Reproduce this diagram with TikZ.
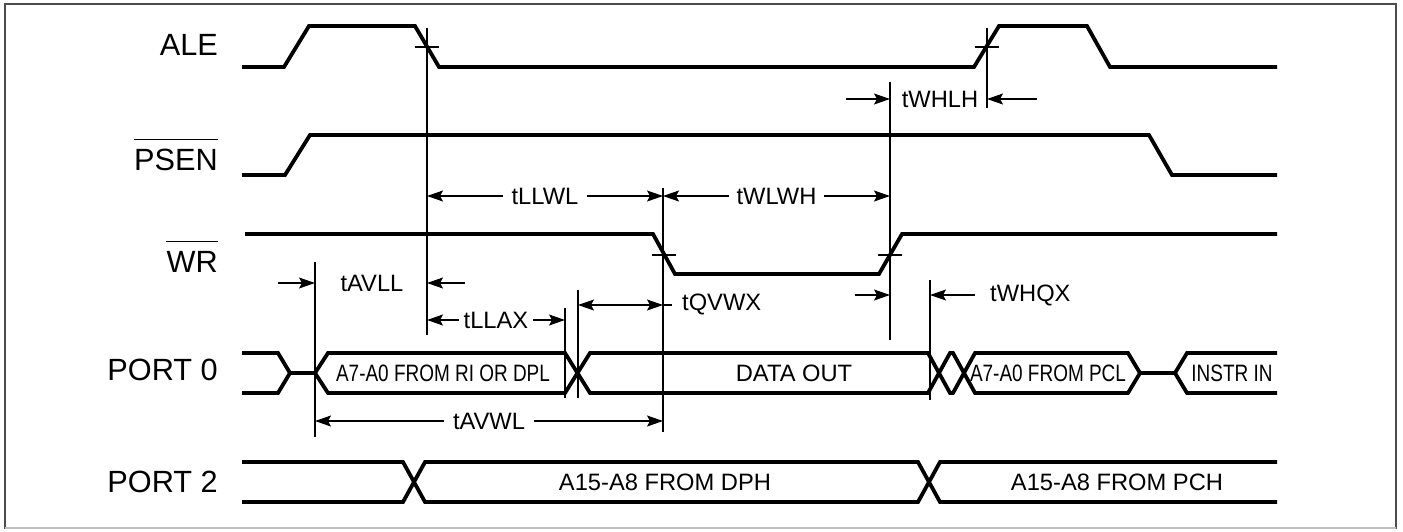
\documentclass[tikz,border=0pt]{standalone}
\usepackage{fontspec}
\setmainfont{Liberation Sans}
\newfontfamily\narrowfont{Liberation Sans}[FakeStretch=0.8]
\usetikzlibrary{arrows.meta}

\begin{document}
\begin{tikzpicture}[x=1pt,y=-1pt,
    sig/.style={line width=3.8pt},
    guide/.style={line width=1.1pt},
    tarr/.style={line width=1.1pt,-{Stealth[length=16pt,width=11pt,inset=3pt]}},
    darr/.style={line width=1.1pt,{Stealth[length=16pt,width=11pt,inset=3pt]}-{Stealth[length=16pt,width=11pt,inset=3pt]}},
    sname/.style={anchor=base east,inner sep=0pt,font=\fontsize{30.7}{32}\selectfont},
    tname/.style={inner sep=0pt,font=\fontsize{23.7}{25}\selectfont},
    busname/.style={inner sep=0pt,font=\fontsize{23.7}{25}\selectfont},
    nbusname/.style={inner sep=0pt,font=\narrowfont\fontsize{23.7}{25}\selectfont}]
  \useasboundingbox (0,0) rectangle (1403,531);
  \draw[line width=2pt,black!70] (5,4) rectangle (1396,528);
  \draw[line width=2pt,black!25] (5,528) -- (1396,528);

  % signal names
  \node[sname] (ale) at (218,55) {ALE};
  \node[sname] (psen) at (218,170) {PSEN};
  \node[sname] (wr) at (218,272) {WR};
  \node[sname] (port0) at (218,380) {PORT 0};
  \node[sname] (port2) at (218,492) {PORT 2};
  \draw[guide] ([yshift=9pt]psen.north west) -- ([yshift=9pt]psen.north east);
  \draw[guide] ([yshift=9pt]wr.north west) -- ([yshift=9pt]wr.north east);

  % timing instants
  \coordinate (AV) at (315,0);
  \coordinate (LL) at (427,0);
  \coordinate (AX) at (565,0);
  \coordinate (QV) at (578,0);
  \coordinate (WL) at (663,0);
  \coordinate (WH) at (890,0);
  \coordinate (QX) at (930,0);
  \coordinate (LH) at (987,0);

  % ALE, PSEN, WR
  \draw[sig] (242,67) -- (284,67) -- (309,26) -- (415,26) -- (439,67) -- (974,67)
    -- (999,26) -- (1087,26) -- (1110,67) -- (1277,67);
  \draw[sig] (242,175) -- (285,175) -- (310,135) -- (1149,135) -- (1172,175) -- (1277,175);
  \draw[sig] (245,234) -- (653,234) -- (675,274) -- (879,274) -- (902,234) -- (1277,234);

  % PORT 0
  \draw[sig] (242,353) -- (278,353) -- (290,373) -- (278,393) -- (242,393);
  \draw[sig] (290,373) -- (315,373);
  \draw[sig] (315,373) -- (328,353) -- (565,353) -- (590,393) -- (928,393) -- (950,353)
    -- (953,353) -- (975,393) -- (1128,393) -- (1140,373);
  \draw[sig] (315,373) -- (328,393) -- (565,393) -- (590,353) -- (928,353) -- (950,393)
    -- (953,393) -- (975,353) -- (1128,353) -- (1140,373);
  \draw[sig] (1140,373) -- (1175,373);
  \draw[sig] (1277,353) -- (1187,353) -- (1175,373) -- (1187,393) -- (1277,393);
  \node[nbusname] (rdpl) at (443,373) {A7-A0 FROM RI OR DPL};
  \node[busname] (dout) at (794,373) {DATA OUT};
  \node[nbusname] (pcl) at (1048,373) {A7-A0 FROM PCL};
  \node[nbusname] (instr) at (1232,373) {INSTR IN};

  % PORT 2
  \draw[sig] (242,462) -- (403,462) -- (425,502) -- (918,502) -- (940,462) -- (1277,462);
  \draw[sig] (242,502) -- (403,502) -- (425,462) -- (918,462) -- (940,502) -- (1277,502);
  \node[busname] (dph) at (665,482) {A15-A8 FROM DPH};
  \node[busname] (pch) at (1117,482) {A15-A8 FROM PCH};

  % reference lines and crossing marks
  \draw[guide] (LL |- 0,28) -- (LL |- 0,335);
  \draw[guide] (LH |- 0,28) -- (LH |- 0,108);
  \draw[guide] (WH |- 0,82) -- (WH |- 0,340);
  \draw[guide] (WL |- 0,188) -- (WL |- 0,432);
  \draw[guide] (AV |- 0,262) -- (AV |- 0,437);
  \draw[guide] (AX |- 0,308) -- (AX |- 0,398);
  \draw[guide] (QV |- 0,290) -- (QV |- 0,398);
  \draw[guide] (QX |- 0,280) -- (QX |- 0,400);
  \foreach \x/\y in {427/47, 987/47, 664/255, 890/255}
    \draw[guide] (\x-12,\y) -- (\x+12,\y);

  % timing parameters
  \draw[tarr] (846,99) -- (WH |- 0,99);
  \draw[tarr] (1037,99) -- (LH |- 0,99);
  \node[tname] (twhlh) at (940,99) {tWHLH};

  \draw[darr] (LL |- 0,196) -- node[tname,fill=white,inner xsep=9pt] (tllwl) {tLLWL} (WL |- 0,196);
  \draw[darr] (WL |- 0,196) -- node[tname,fill=white,inner xsep=8pt] (twlwh) {tWLWH} (WH |- 0,196);

  \draw[tarr] (278,283) -- (AV |- 0,283);
  \draw[tarr] (465,283) -- (LL |- 0,283);
  \node[tname] (tavll) at (372,283) {tAVLL};

  \draw[darr] (QV |- 0,305) -- (WL |- 0,305);
  \draw[guide] (WL |- 0,305) -- (672,305);
  \node[tname,anchor=west] (tqvwx) at (682,304) {tQVWX};

  \draw[darr] (LL |- 0,320) -- node[tname,fill=white,inner xsep=5pt] (tllax) {tLLAX} (AX |- 0,320);

  \draw[tarr] (855,295) -- (WH |- 0,295);
  \draw[tarr] (975,295) -- (QX |- 0,295);
  \node[tname,anchor=west] (twhqx) at (990,295) {tWHQX};

  \draw[darr] (AV |- 0,421) -- node[tname,fill=white,inner xsep=9pt] (tavwl) {tAVWL} (WL |- 0,421);
\end{tikzpicture}
\end{document}
